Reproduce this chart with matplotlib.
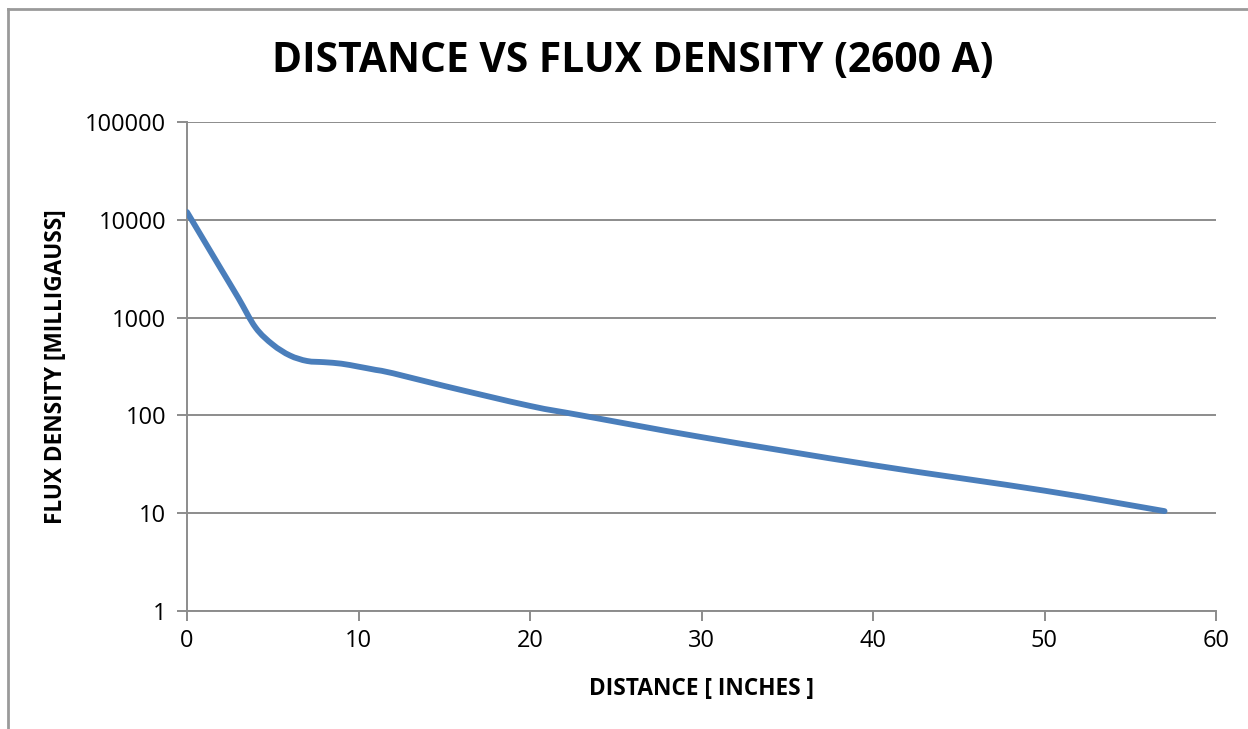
import numpy as np
import matplotlib
matplotlib.use("Agg")
import matplotlib.pyplot as plt
from matplotlib.path import Path
from matplotlib.patches import PathPatch
from matplotlib.lines import Line2D

# Data
distance_in = [0, 1, 2, 3, 4, 5, 6, 7, 8, 9, 10, 11, 12, 15, 20, 23, 30, 40, 50, 57]
flux_mg = [12000, 6100, 3100, 1580, 790, 530, 410, 360, 350, 338, 315, 292, 270,
           200, 125, 100, 60, 31, 17, 10.5]
x_ticks = [0, 10, 20, 30, 40, 50, 60]
y_ticks = [1, 10, 100, 1000, 10000, 100000]
y_tick_labels = ["1", "10", "100", "1000", "10000", "100000"]

title = "DISTANCE VS FLUX DENSITY (2600 A)"
xlabel = "DISTANCE [ INCHES ]"
ylabel = "FLUX DENSITY [MILLIGAUSS]"

plt.rcParams['font.family'] = ['Open Sans', 'DejaVu Sans']

fig = plt.figure(figsize=(12.48, 7.29), dpi=100)
ax = fig.add_axes([187/1248, 1-611/729, (1216-187)/1248, (611-122)/729])

ax.set_yscale('log')
ax.set_xlim(0, 60)
ax.set_ylim(1, 100000)

# Smoothed line (Excel-style smoothing) built as Bezier segments in log space
xs = np.array(distance_in, dtype=float)
ly = np.log10(np.array(flux_mg, dtype=float))
verts = [(xs[0], 10**ly[0])]
codes = [Path.MOVETO]
n = len(xs)
t = 1/6
for i in range(n-1):
    p0 = (xs[max(i-1, 0)], ly[max(i-1, 0)])
    p1 = (xs[i], ly[i])
    p2 = (xs[i+1], ly[i+1])
    p3 = (xs[min(i+2, n-1)], ly[min(i+2, n-1)])
    c1 = (p1[0] + (p2[0]-p0[0])*t, p1[1] + (p2[1]-p0[1])*t)
    c2 = (p2[0] - (p3[0]-p1[0])*t, p2[1] - (p3[1]-p1[1])*t)
    verts += [(c1[0], 10**c1[1]), (c2[0], 10**c2[1]), (p2[0], 10**p2[1])]
    codes += [Path.CURVE4]*3
path = Path(verts, codes)
patch = PathPatch(path, facecolor='none', edgecolor='#4a7ebb', lw=4.2,
                  capstyle='round', joinstyle='round', zorder=3)
ax.add_patch(patch)

gc = '#8c8c8c'
ax.set_yticks(y_ticks)
ax.set_yticklabels(y_tick_labels)
ax.yaxis.set_minor_locator(matplotlib.ticker.NullLocator())
ax.set_xticks(x_ticks)
ax.grid(axis='y', which='major', color=gc, lw=1.4)
ax.set_axisbelow(True)
for s in ['top', 'right']:
    ax.spines[s].set_visible(False)
for s in ['left', 'bottom']:
    ax.spines[s].set_color(gc)
    ax.spines[s].set_linewidth(1.4)
ax.tick_params(axis='both', colors=gc, width=1.4, length=7, labelsize=17,
               labelcolor='black')
ax.tick_params(axis='x', pad=6)
ax.tick_params(axis='y', pad=8)

ax.set_xlabel(xlabel, fontsize=16.3, fontweight='bold', labelpad=17)
ax.set_ylabel(ylabel, fontsize=16.3, fontweight='bold', labelpad=12)
fig.text(633/1248, 1-62/729, title, fontsize=29.3, fontweight='bold',
         ha='center', va='center')

# Outer chart border (left and top visible)
fig.add_artist(Line2D([7.5/1248, 7.5/1248], [0, 1-9/729], transform=fig.transFigure,
                      color='#9a9a9a', lw=2))
fig.add_artist(Line2D([7.5/1248, 1], [1-9/729, 1-9/729], transform=fig.transFigure,
                      color='#9a9a9a', lw=2))

fig.savefig('out.png', dpi=100)
